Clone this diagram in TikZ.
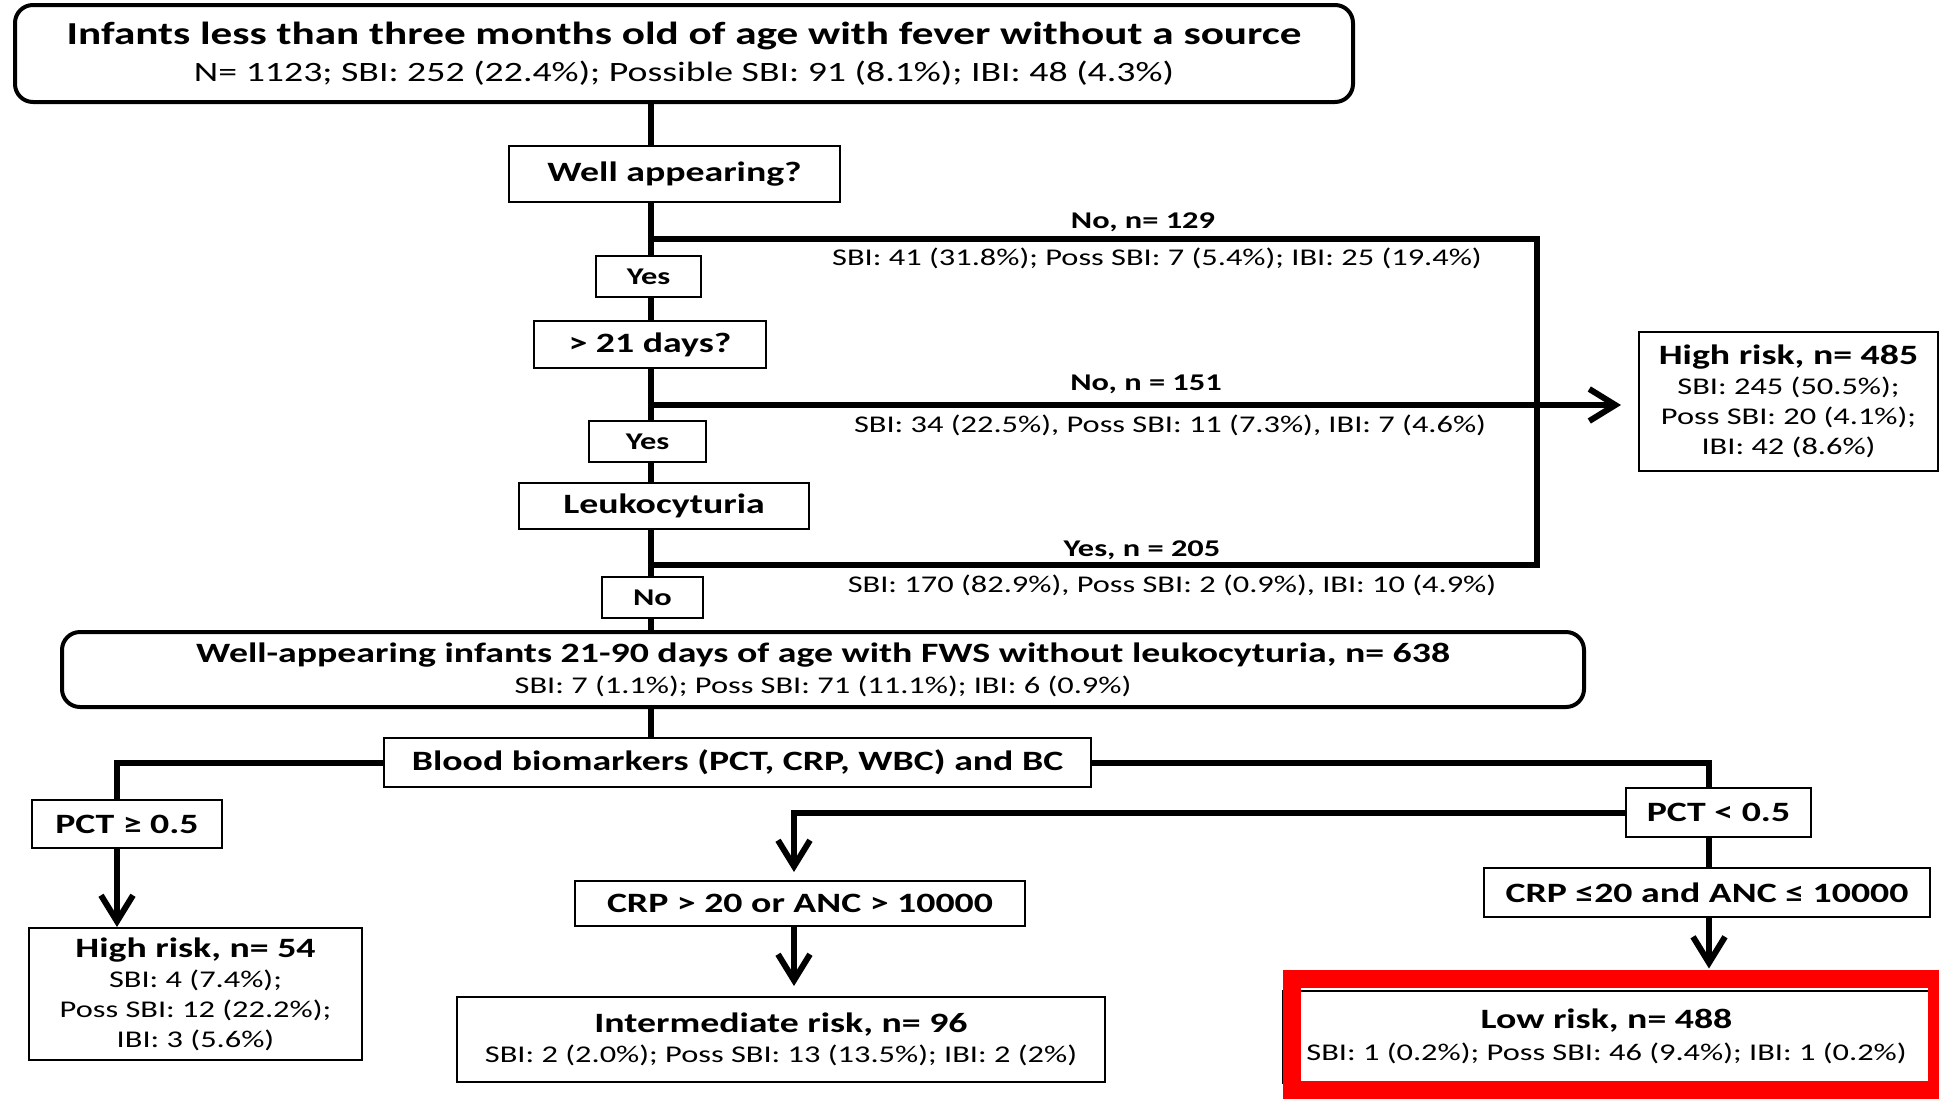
\documentclass[tikz,border=0pt]{standalone}
\usepackage{fontspec}
\setmainfont{Carlito}[FakeStretch=1.35]
\usetikzlibrary{arrows.meta,backgrounds}

\begin{document}
\begin{tikzpicture}[x=0.5pt,y=-0.5pt,
  flow/.style={line width=3pt},
  arr/.style={line width=3pt,-{Straight Barb[length=13pt,width=16pt]}},
  box/.style={draw,line width=1pt,fill=white,inner sep=0pt,align=center},
  rbox/.style={draw,line width=2pt,fill=white,rounded corners=9pt,inner sep=0pt,align=center},
  lbl/.style={font=\fontsize{14}{17}\selectfont\bfseries},
  yn/.style={font=\fontsize{12}{15}\selectfont\bfseries},
  stat/.style={font=\fontsize{12}{15}\selectfont},
  clbl/.style={anchor=base,font=\fontsize{12}{15}\selectfont\bfseries},
  cstat/.style={anchor=base,font=\fontsize{12}{15}\selectfont}
]
\useasboundingbox (0,0) rectangle (1939,1099);

% boxes
\node[rbox,minimum width=669pt,minimum height=48.5pt,font=\fontsize{14}{18.5}\selectfont] (top) at (684,53.5)
  {{\fontsize{16}{18.5}\selectfont\bfseries Infants less than three months old of age with fever without a source}\\
   N= 1123; SBI: 252 (22.4\%); Possible SBI: 91 (8.1\%); IBI: 48 (4.3\%)};
\node[box,lbl,minimum width=165.5pt,minimum height=28pt] (well) at (674.5,174) {Well appearing?};
\node[box,yn,minimum width=52.5pt,minimum height=20.5pt] (yes1) at (648.5,276.5) {Yes};
\node[box,lbl,minimum width=116pt,minimum height=23.5pt] (days) at (650,344.5) {> 21 days?};
\node[box,yn,minimum width=58.5pt,minimum height=20.5pt] (yes2) at (647.5,441.5) {Yes};
\node[box,lbl,minimum width=145pt,minimum height=23pt] (leuk) at (664,506) {Leukocyturia};
\node[box,yn,minimum width=50.5pt,minimum height=20.5pt] (no) at (652.5,597.5) {No};
\node[rbox,minimum width=761pt,minimum height=37.5pt,font=\fontsize{12}{15.5}\selectfont] (well2) at (823,669.5)
  {{\fontsize{14}{15.5}\selectfont\bfseries Well-appearing infants 21-90 days of age with FWS without leukocyturia, n= 638}\\
   SBI: 7 (1.1\%); Poss SBI: 71 (11.1\%); IBI: 6 (0.9\%)};
\node[box,lbl,minimum width=353.5pt,minimum height=24.5pt] (blood) at (737.5,762.5) {Blood biomarkers (PCT, CRP, WBC) and BC};
\node[box,lbl,minimum width=95pt,minimum height=24pt] (pct1) at (127,824) {PCT ≥ 0.5};
\node[box,lbl,minimum width=92.5pt,minimum height=24.5pt] (pct2) at (1718.5,812.5) {PCT < 0.5};
\node[box,lbl,minimum width=225pt,minimum height=22.5pt] (crp1) at (800,903.5) {CRP > 20 or ANC > 10000};
\node[box,lbl,minimum width=223pt,minimum height=24.5pt] (crp2) at (1707,892.5) {CRP ≤20 and ANC ≤ 10000};
\node[box,stat,minimum width=166.5pt,minimum height=66pt,font=\fontsize{12}{15}\selectfont] (hr54) at (195.5,994)
  {{\fontsize{14}{15}\selectfont\bfseries High risk, n= 54}\\SBI: 4 (7.4\%);\\Poss SBI: 12 (22.2\%);\\IBI: 3 (5.6\%)};
\node[box,minimum width=324pt,minimum height=42.5pt,font=\fontsize{12}{15}\selectfont] (inter) at (781,1039.5)
  {{\fontsize{14}{15}\selectfont\bfseries Intermediate risk, n= 96}\\SBI: 2 (2.0\%); Poss SBI: 13 (13.5\%); IBI: 2 (2\%)};
\node[box,minimum width=323.5pt,minimum height=46pt,font=\fontsize{12}{16}\selectfont] (low) at (1606.5,1036.5)
  {{\fontsize{14}{16}\selectfont\bfseries Low risk, n= 488}\\SBI: 1 (0.2\%); Poss SBI: 46 (9.4\%); IBI: 1 (0.2\%)};
\node[box,minimum width=149.5pt,minimum height=69.5pt,font=\fontsize{12}{15}\selectfont] (hr485) at (1788.5,401.5)
  {{\fontsize{14}{15}\selectfont\bfseries High risk, n= 485}\\SBI: 245 (50.5\%);\\Poss SBI: 20 (4.1\%);\\IBI: 42 (8.6\%)};

% connector labels
\node[clbl] (l129) at (1143,228) {No, n= 129};
\node[cstat] (s129) at (1157,265) {SBI: 41 (31.8\%); Poss SBI: 7 (5.4\%); IBI: 25 (19.4\%)};
\node[clbl] (l151) at (1146,390) {No, n = 151};
\node[cstat] (s151) at (1170,432) {SBI: 34 (22.5\%), Poss SBI: 11 (7.3\%), IBI: 7 (4.6\%)};
\node[clbl] (l205) at (1142,556) {Yes, n = 205};
\node[cstat] (s205) at (1172,592) {SBI: 170 (82.9\%), Poss SBI: 2 (0.9\%), IBI: 10 (4.9\%)};

% junction coordinates
\coordinate (j1) at (651,239);
\coordinate (r1) at (1537,239);
\coordinate (j2) at (651,405);
\coordinate (j3) at (651,565);
\coordinate (r3) at (1537,565);
\coordinate (lturn) at (117,762.5);
\coordinate (rturn) at (1709,762.5);
\coordinate (mturn) at (794,812.5);

\begin{scope}[on background layer]
  \fill[white] (0,0) rectangle (1939,1099);
  \draw[flow] (j1 |- top.south) -- (j1 |- blood.north);
  \draw[flow] (j1) -- (r1) -- (r3) -- (j3);
  \draw[arr,shorten >=8.5pt] (j2) -- (j2 -| hr485.west);
  \draw[flow] (blood.west) -- (lturn) -- (lturn |- pct1.north);
  \draw[arr] (lturn |- pct1.south) -- (lturn |- hr54.north);
  \draw[flow] (blood.east) -- (rturn) -- (rturn |- pct2.north);
  \draw[arr,shorten >=4pt] (pct2.west) -- (mturn) -- (mturn |- crp1.north);
  \draw[flow] (rturn |- pct2.south) -- (rturn |- crp2.north);
  \draw[arr,shorten >=5pt] (mturn |- crp1.south) -- (mturn |- inter.north);
  \draw[arr,shorten >=10.5pt] (rturn |- crp2.south) -- (rturn |- low.north);
\end{scope}

% highlight frame
\draw[red,line width=9pt] (1292,979) rectangle (1937,1090);
\end{tikzpicture}
\end{document}
